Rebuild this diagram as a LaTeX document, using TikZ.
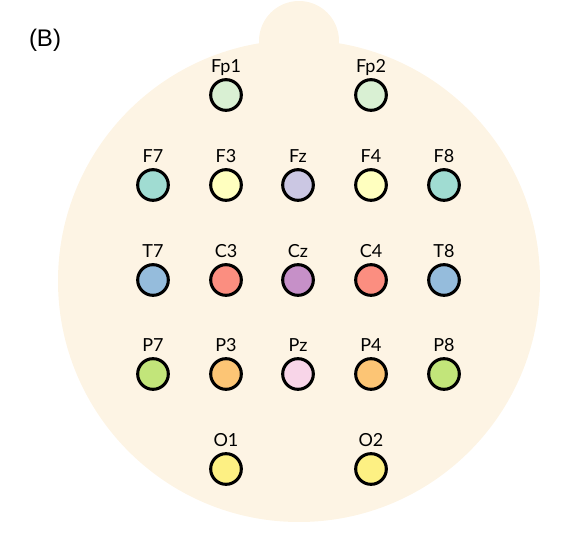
\documentclass[tikz,border=0pt]{standalone}
\usepackage{fontspec}
\setmainfont{Lato}
\newfontfamily\panelfont{Liberation Sans}
\usetikzlibrary{positioning}
\definecolor{cHead}{HTML}{FDF4E4}
\definecolor{eFp}{HTML}{D9F0D3}
\definecolor{eFT}{HTML}{A0DCD2}
\definecolor{eF}{HTML}{FFFFBF}
\definecolor{eFz}{HTML}{CBC7E3}
\definecolor{eT}{HTML}{95BCDC}
\definecolor{eC}{HTML}{FB8E80}
\definecolor{eCz}{HTML}{C690C8}
\definecolor{eTP}{HTML}{C2E57A}
\definecolor{eP}{HTML}{FCC575}
\definecolor{ePz}{HTML}{F8D5E8}
\definecolor{eO}{HTML}{FDF083}
\tikzset{
  head/.style={fill=cHead, draw=none},
  elec/.style={circle, draw=black, line width=2.3pt, fill=#1, minimum size=23pt, inner sep=0pt},
  elab/.style={font=\fontsize{13.5}{15}\selectfont, inner sep=0pt, anchor=base},
  panel/.style={font=\panelfont\fontsize{18}{20}\selectfont, inner sep=0pt},
}
\begin{document}
\begin{tikzpicture}[x=0.75pt,y=0.75pt]
\useasboundingbox (0,0) rectangle (572,547);
% ================= head outline =================
\fill[head] (299,506) circle (40);
\fill[head] (299,266) circle (241);
\node[panel] (tag) at (45,507) {(B)};
% ================= electrodes =================
\foreach \nm/\x/\y/\c in {Fp1/226/452/eFp, Fp2/371/452/eFp,
    F7/153/362/eFT, F3/226/362/eF, Fz/298/362/eFz, F4/371/362/eF, F8/444/362/eFT,
    T7/153/267/eT, C3/226/267/eC, Cz/298/267/eCz, C4/371/267/eC, T8/444/267/eT,
    P7/153/173/eTP, P3/226/173/eP, Pz/298/173/ePz, P4/371/173/eP, P8/444/173/eTP,
    O1/226/78/eO, O2/371/78/eO}{
  \node[elec=\c] (\nm) at (\x,\y) {};
  \node[elab] (\nm-lab) at (\x,\y+22.5) {\nm};}
\end{tikzpicture}
\end{document}
